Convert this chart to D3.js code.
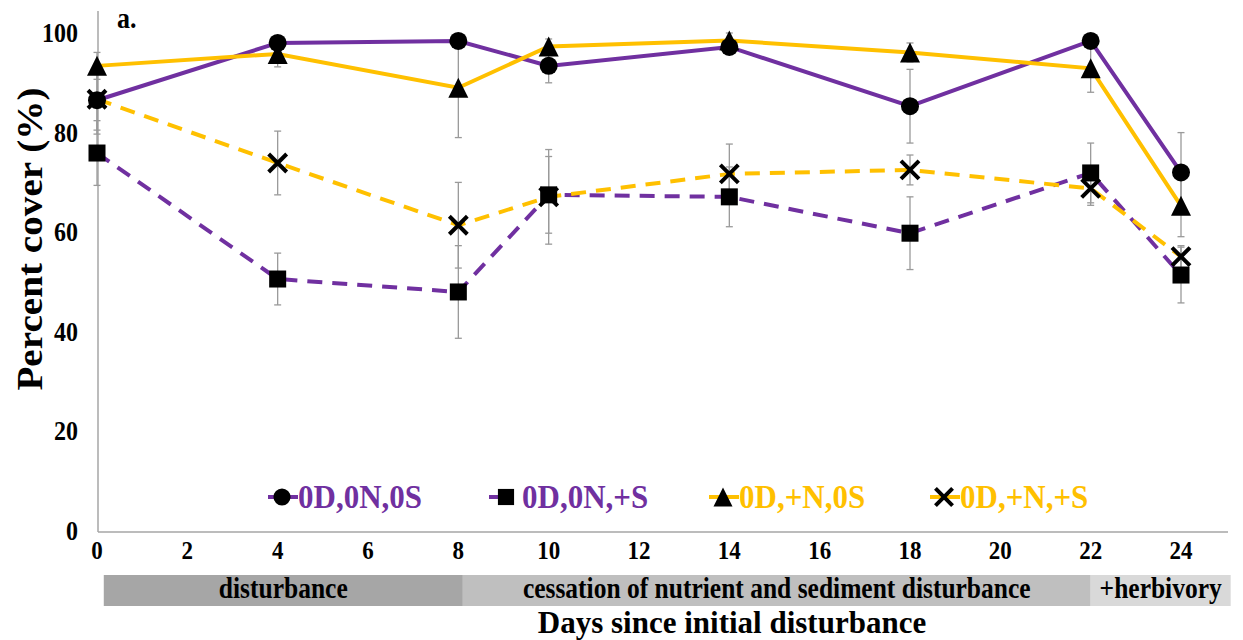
<!DOCTYPE html>
<html>
<head>
<meta charset="utf-8">
<script src="https://cdn.jsdelivr.net/npm/d3@7"></script>
<style>
  html, body { margin: 0; padding: 0; background: #fff; }
  svg { display: block; }
  text { font-family: "Liberation Serif", "Times New Roman", serif; font-weight: bold; }
</style>
</head>
<body>
<svg id="chart" width="1243" height="640"></svg>
<script>
// Sampling days
const days = [0, 4, 8, 10, 14, 18, 22, 24];

// Mean percent cover per treatment, with standard errors
const seriesNames = ["0D,0N,0S", "0D,0N,+S", "0D,+N,0S", "0D,+N,+S"];
const control      = [86.7, 98.2, 98.6, 93.6, 97.4, 85.5, 98.6, 72.2];
const controlErr   = [6.0, 1.5, 1.5, 3.4, 1.5, 7.4, 1.5, 8.0];
const sediment     = [76.1, 50.8, 48.2, 67.7, 67.3, 60.0, 72.1, 51.6];
const sedimentErr  = [6.5, 5.2, 9.3, 7.7, 6.0, 7.3, 6.0, 5.6];
const nutrient     = [93.6, 96.0, 89.2, 97.5, 98.7, 96.3, 93.1, 65.5];
const nutrientErr  = [2.7, 2.6, 10.0, 1.5, 1.5, 1.9, 4.8, 6.2];
const nutSed       = [86.9, 74.1, 61.6, 67.3, 71.9, 72.7, 69.0, 55.3];
const nutSedErr    = [7.0, 6.4, 8.6, 9.5, 6.0, 3.0, 3.4, 2.2];

// Axis ticks
const xTicks = [0, 2, 4, 6, 8, 10, 12, 14, 16, 18, 20, 22, 24];
const yTicks = [0, 20, 40, 60, 80, 100];

// Experimental phases shown beneath the axis (in days)
const phaseNames  = ["disturbance", "cessation of nutrient and sediment disturbance", "+herbivory"];
const phaseStart  = [0.15, 8.1, 22.0];
const phaseEnd    = [8.1, 22.0, 25.1];

const PURPLE = "#7030A0", GOLD = "#FFC000";
const styles = [
  { color: PURPLE, dash: null,    marker: "circle" },
  { color: PURPLE, dash: "15,10", marker: "square" },
  { color: GOLD,   dash: null,    marker: "triangle" },
  { color: GOLD,   dash: "15,10", marker: "cross" }
];
const values = [control, sediment, nutrient, nutSed];
const errors = [controlErr, sedimentErr, nutrientErr, nutSedErr];

const series = seriesNames.map((name, i) => ({
  name, ...styles[i],
  points: days.map((d, j) => ({ day: d, v: values[i][j], e: errors[i][j] }))
}));

const svg = d3.select("#chart");
const x = d3.scaleLinear().domain([0, 24]).range([97, 1181]);
const y = d3.scaleLinear().domain([0, 100]).range([532, 34]);
const STRETCH = 1.12;

// Bold serif text, slightly stretched vertically
function label(g, tx, ty, str, size, anchor, fill, rotate, stretch) {
  const k = stretch || STRETCH;
  return g.append("text")
    .attr("transform", `translate(${tx},${ty}) scale(1,${k})` + (rotate ? ` rotate(${rotate})` : ""))
    .attr("font-size", size)
    .attr("text-anchor", anchor || "middle")
    .attr("fill", fill || "#000")
    .text(str);
}

// Axis frame
svg.append("line").attr("x1", x(0) + 1).attr("x2", x(0) + 1)
  .attr("y1", y(104.6)).attr("y2", y(0))
  .attr("stroke", "#a6a6a6").attr("stroke-width", 1.5);
svg.append("line").attr("x1", x(0) + 1).attr("x2", 1228)
  .attr("y1", y(0)).attr("y2", y(0))
  .attr("stroke", "#a6a6a6").attr("stroke-width", 1.5);

// Y tick labels
const yAxis = svg.append("g");
yTicks.forEach(t => label(yAxis, 78, y(t) + 8, String(t), 24, "end"));

// X tick labels
const xAxis = svg.append("g");
xTicks.forEach(t => label(xAxis, x(t), 559, String(t), 23, "middle"));

// Phase bands
const bandFills = ["#a6a6a6", "#bfbfbf", "#d9d9d9"];
const bands = svg.append("g");
phaseNames.forEach((n, i) => {
  bands.append("rect")
    .attr("x", x(phaseStart[i])).attr("width", x(phaseEnd[i]) - x(phaseStart[i]))
    .attr("y", 575).attr("height", 31)
    .attr("fill", bandFills[i]);
  label(bands, (x(phaseStart[i]) + x(phaseEnd[i])) / 2, 598, n, 25.5, "middle");
});

// Axis titles and panel letter
label(svg, 732, 633, "Days since initial disturbance", 31, "middle", "#000", null, 1.0);
label(svg, 42, 239, "Percent cover (%)", 35, "middle", "#000", -90);
label(svg, 117, 28, "a.", 26, "start");

// Lines
const line = d3.line().x(p => x(p.day)).y(p => y(p.v));
const linesG = svg.append("g");
series.forEach(s => {
  linesG.append("path")
    .attr("d", line(s.points))
    .attr("fill", "none")
    .attr("stroke", s.color)
    .attr("stroke-width", 4)
    .attr("stroke-dasharray", s.dash);
});

// Error bars
const errG = svg.append("g").attr("stroke", "#9a9a9a").attr("stroke-width", 1.3);
series.forEach(s => {
  s.points.forEach(p => {
    const cx = x(p.day), y1 = y(p.v + p.e), y2 = y(p.v - p.e);
    errG.append("line").attr("x1", cx).attr("x2", cx).attr("y1", y1).attr("y2", y2);
    errG.append("line").attr("x1", cx - 3.5).attr("x2", cx + 3.5).attr("y1", y1).attr("y2", y1);
    errG.append("line").attr("x1", cx - 3.5).attr("x2", cx + 3.5).attr("y1", y2).attr("y2", y2);
  });
});

// Markers
function drawMarker(g, type, cx, cy, scale) {
  const k = scale || 1;
  if (type === "circle") {
    g.append("circle").attr("cx", cx).attr("cy", cy).attr("r", 9 * k).attr("fill", "#000");
  } else if (type === "square") {
    g.append("rect").attr("x", cx - 8.5 * k).attr("y", cy - 8.5 * k)
      .attr("width", 17 * k).attr("height", 17 * k).attr("fill", "#000");
  } else if (type === "triangle") {
    const h = 10 * k;
    g.append("path")
      .attr("d", `M${cx},${cy - h} L${cx + h},${cy + h} L${cx - h},${cy + h} Z`)
      .attr("fill", "#000");
  } else {
    const h = 9 * k;
    g.append("path")
      .attr("d", `M${cx - h},${cy - h} L${cx + h},${cy + h} M${cx - h},${cy + h} L${cx + h},${cy - h}`)
      .attr("stroke", "#000").attr("stroke-width", 4).attr("fill", "none");
  }
}
const markG = svg.append("g");
series.forEach(s => s.points.forEach(p => drawMarker(markG, s.marker, x(p.day), y(p.v))));

// Legend
const legendX = [268, 489, 709, 930];
const legendG = svg.append("g");
series.forEach((s, i) => {
  const lx = legendX[i], ly = 497;
  const segEnd = i === 1 ? lx + 18 : lx + 30;
  legendG.append("line").attr("x1", lx).attr("x2", segEnd)
    .attr("y1", ly).attr("y2", ly)
    .attr("stroke", s.color).attr("stroke-width", 4);
  const mx = [282, 506, 723, 944][i];
  drawMarker(legendG, s.marker, mx, ly, 0.95);
  label(legendG, mx + 16, ly + 11, s.name, 31, "start", s.color);
});
</script>
</body>
</html>
